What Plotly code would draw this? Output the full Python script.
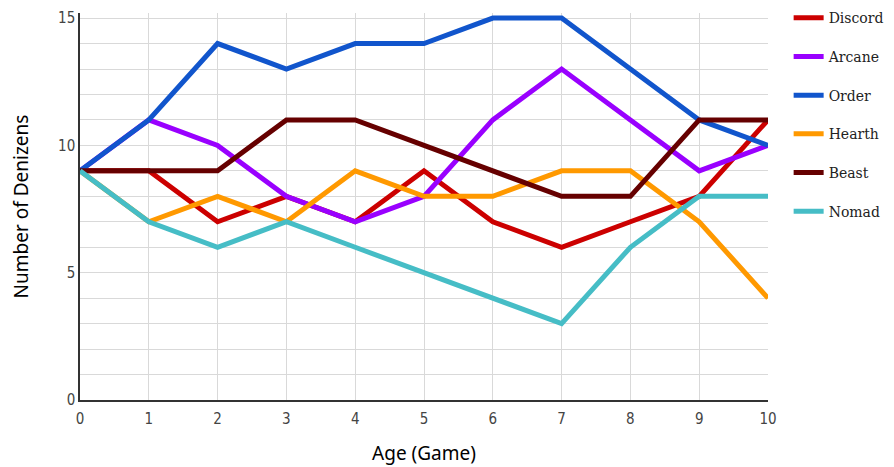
import plotly.graph_objects as go

ages = [0, 1, 2, 3, 4, 5, 6, 7, 8, 9, 10]
discord = [9, 9, 7, 8, 7, 9, 7, 6, 7, 8, 11]
arcane = [9, 11, 10, 8, 7, 8, 11, 13, 11, 9, 10]
order = [9, 11, 14, 13, 14, 14, 15, 15, 13, 11, 10]
hearth = [9, 7, 8, 7, 9, 8, 8, 9, 9, 7, 4]
beast = [9, 9, 9, 11, 11, 10, 9, 8, 8, 11, 11]
nomad = [9, 7, 6, 7, 6, 5, 4, 3, 6, 8, 8]

series_names = ["Discord", "Arcane", "Order", "Hearth", "Beast", "Nomad"]
series_values = [discord, arcane, order, hearth, beast, nomad]
colors = ["#cc0000", "#9900ff", "#1155cc", "#ff9900", "#660000", "#46bdc6"]

fig = go.Figure()
for name, vals, col in zip(series_names, series_values, colors):
    fig.add_trace(go.Scatter(
        x=ages, y=vals, name=name, mode="lines",
        line=dict(color=col, width=5),
        legendgroup=name,
    ))

fig.update_layout(
    width=886, height=459,
    margin=dict(l=72, r=126, t=5, b=67, autoexpand=False),
    paper_bgcolor="white", plot_bgcolor="white",
    showlegend=True,
    legend=dict(
        x=1.03, xanchor="left", y=1.028, yanchor="top",
        font=dict(family="DejaVu Serif", size=14, color="#222222"),
        tracegroupgap=17.5, itemwidth=30,
        bgcolor="rgba(0,0,0,0)",
    ),
    xaxis=dict(
        range=[0, 10], dtick=1, tick0=0, automargin=False,
        showgrid=True, gridcolor="#d9d9d9", gridwidth=1,
        showline=True, linecolor="#333333", linewidth=1.5,
        zeroline=False, ticks="", ticklabelstandoff=4,
        tickfont=dict(family="DejaVu Sans Condensed, DejaVu Sans", size=15, color="#444444"),
        title=dict(text="Age (Game)", font=dict(family="Noto Sans", size=19, color="#000000"), standoff=20),
    ),
    yaxis=dict(
        range=[0, 15.2], tickvals=[0, 5, 10, 15], automargin=False,
        showgrid=True, gridcolor="#d9d9d9", gridwidth=1,
        showline=True, linecolor="#333333", linewidth=1.5,
        zeroline=False, ticks="",
        tickfont=dict(family="DejaVu Sans Condensed, DejaVu Sans", size=15, color="#444444"),
        title=dict(text="Number of Denizens", font=dict(family="Noto Sans", size=19, color="#000000"), standoff=32),
        minor=dict(dtick=1, tick0=0, showgrid=True, gridcolor="#d9d9d9", gridwidth=1),
    ),
)

fig.write_html("out.html")
